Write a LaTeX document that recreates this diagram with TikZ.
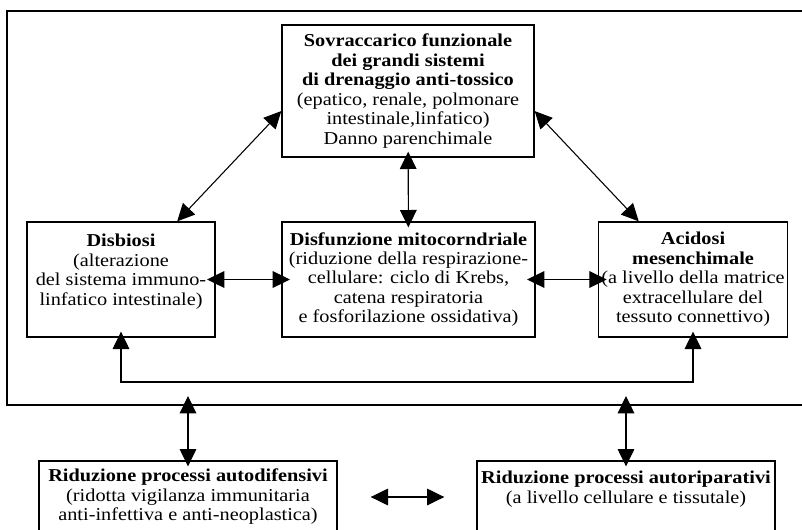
\documentclass[tikz,border=0pt]{standalone}
\usepackage{fontspec}
\setmainfont[FakeStretch=1.12]{Liberation Serif}
\usetikzlibrary{arrows.meta}
\begin{document}
\begin{tikzpicture}[>={Triangle[length=13pt,width=12.5pt]}, x=0.75pt, y=-0.75pt,
        box/.style={draw, line width=1pt, align=center, inner sep=2pt,
            font=\fontsize{13.6}{14.6}\selectfont},
        link/.style={<->, line width=0.8pt}]
            \clip (0,0) rectangle (802,529);
            % Outer frame (open on the right)
            \draw[line width=1.3pt] (802,11) -- (7,11) -- (7,405) -- (802,405);
            \coordinate (fl) at (188,405);
            \coordinate (fr) at (626,405);
            \coordinate (loop) at (408,382);
            % Boxes
            \node[box, minimum width=189pt, minimum height=99pt] (sov) at (408,91)
                {\textbf{Sovraccarico funzionale}\\\textbf{dei grandi sistemi}\\\textbf{di drenaggio anti-tossico}\\(epatico, renale, polmonare\\intestinale,linfatico)\\Danno parenchimale};
            \node[box, minimum width=141pt, minimum height=86.25pt] (dis) at (121,279.5)
                {\textbf{Disbiosi}\\(alterazione\\del sistema immuno-\\linfatico intestinale)\\\mbox{}};
            \node[box, minimum width=189.75pt, minimum height=86.25pt] (mito) at (408.5,279.5)
                {\textbf{Disfunzione mitocorndriale}\\(riduzione della respirazione-\\cellulare: ciclo di Krebs,\\catena respiratoria\\e fosforilazione ossidativa)};
            \node[box, minimum width=141pt, minimum height=86.25pt] (acid) at (693,279.5)
                {\textbf{Acidosi}\\\textbf{mesenchimale}\\(a livello della matrice\\extracellulare del\\tessuto connettivo)};
            \node[box, minimum width=223.5pt, minimum height=54pt] (adef) at (188,497)
                {\textbf{Riduzione processi autodifensivi}\\(ridotta vigilanza immunitaria\\anti-infettiva e anti-neoplastica)};
            \node[box, minimum width=223.5pt, minimum height=54pt] (arip) at (626,497)
                {\textbf{Riduzione processi autoriparativi}\\(a livello cellulare e tissutale)\\\mbox{}};
            % Arrows
            \draw[link] (dis.46) -- (sov.189);    % Disbiosi - top box
            \draw[link] (acid.133) -- (sov.-9);   % Acidosi - top box
            \draw[link, shorten <=-4.5pt, shorten >=-4.5pt] (sov) -- (mito);
            \draw[link, shorten <=-6.5pt, shorten >=-6.5pt] (dis) -- (mito);
            \draw[link, shorten <=-6.5pt, shorten >=-6.5pt] (mito) -- (acid);
            \draw[link, shorten <=-4.5pt, shorten >=-4.5pt] (dis.south) |- (loop) -| (acid.south);
            \draw[link, shorten <=-6.75pt, shorten >=-4.5pt] (fl) -- (adef);
            \draw[link, shorten <=-6.75pt, shorten >=-4.5pt] (fr) -- (arip);
            \draw[link, shorten <=24.75pt, shorten >=24pt] (adef.east) -- (arip.west);
        \end{tikzpicture}
\end{document}
